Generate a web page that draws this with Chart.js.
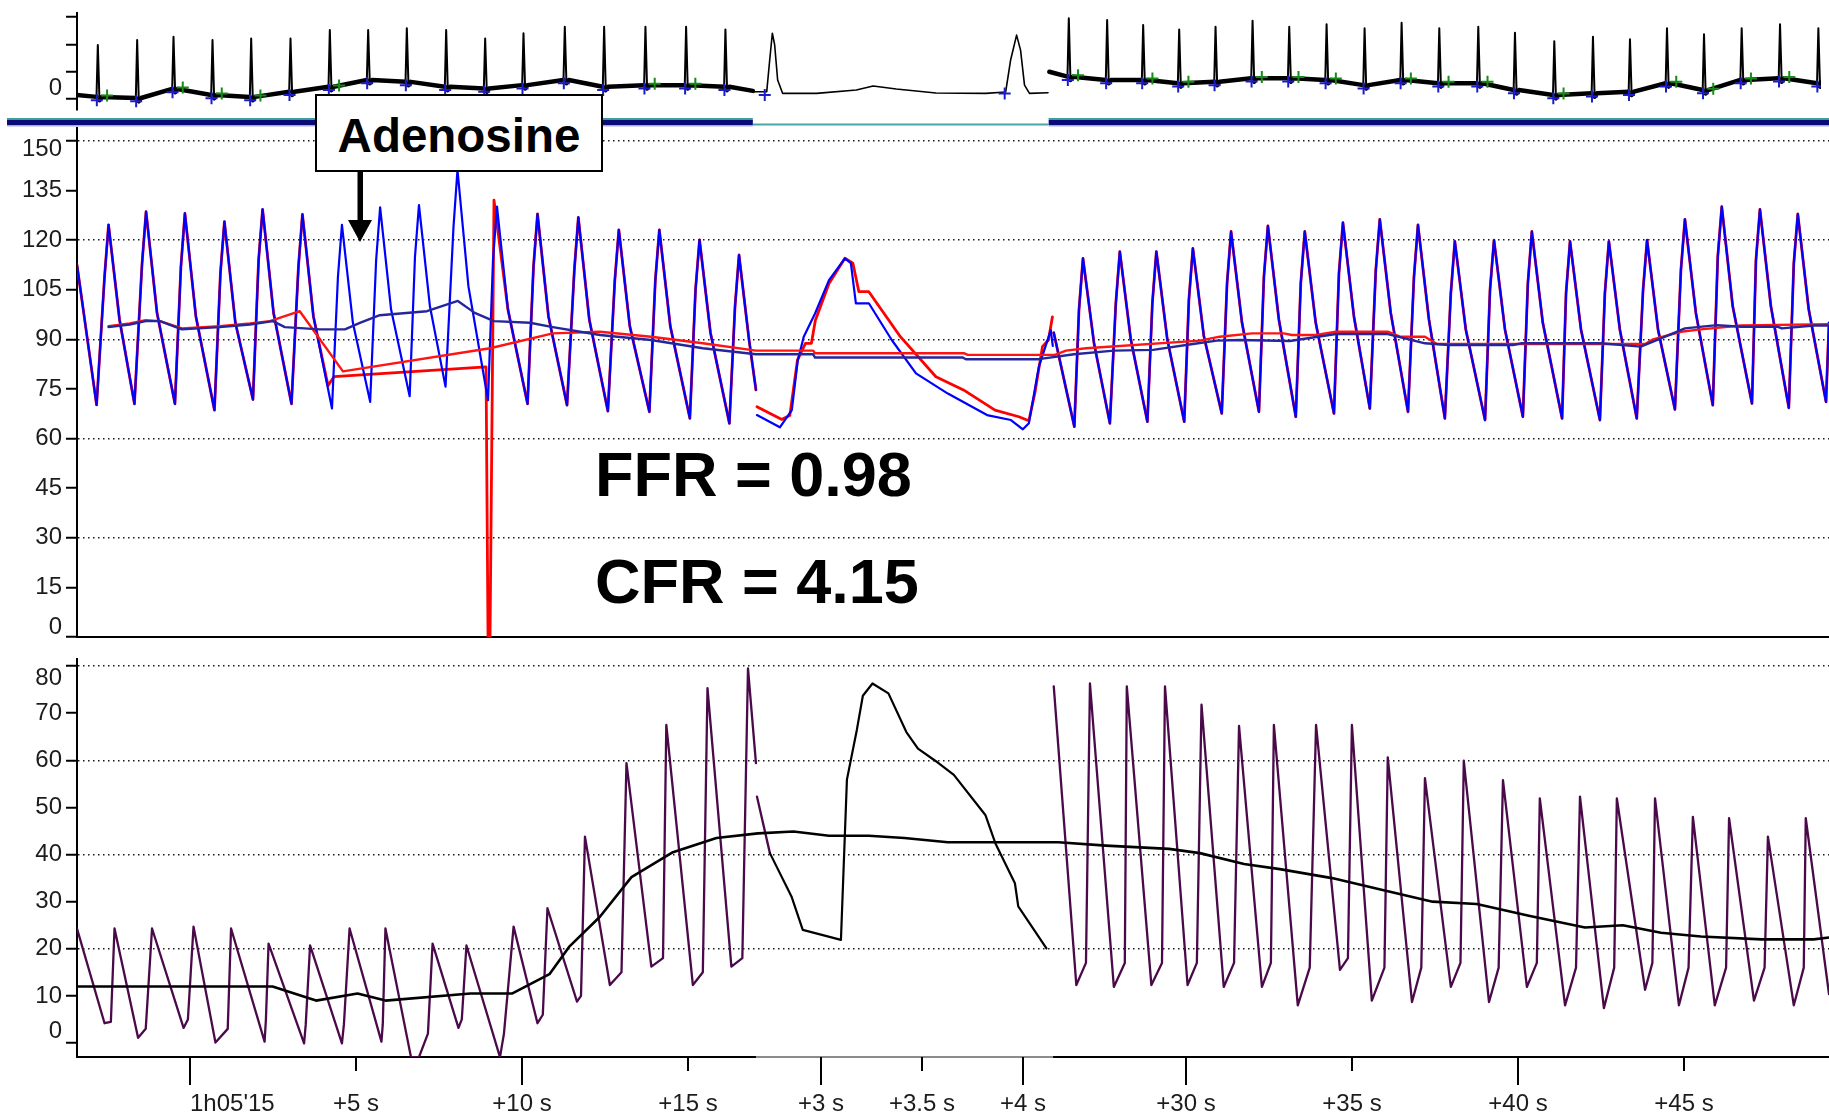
<!DOCTYPE html>
<html lang="en">
<head>
<meta charset="utf-8">
<title>Pressure / flow recording with adenosine</title>
<script src="https://cdn.jsdelivr.net/npm/chart.js@4.4.1/dist/chart.umd.min.js"></script>
<style>
  html, body { margin: 0; padding: 0; background: #fff; }
  body { width: 1829px; height: 1117px; position: relative; overflow: hidden;
         font-family: "Liberation Sans", Arial, sans-serif; }
  canvas { position: absolute; left: 0; }
  #ecg   { top: 0;     width: 1829px; height: 130px; }
  #press { top: 120px; width: 1829px; height: 530px; }
  #flow  { top: 650px; width: 1829px; height: 467px; }
  .note { position: absolute; font-weight: bold; color: #000; white-space: nowrap; }
  #adenosine { left: 315px; top: 94px; width: 284px; height: 74px; border: 2px solid #000;
               background: #fff; font-size: 47.5px; line-height: 80px; text-align: center; overflow: hidden; }
  #arrow { position: absolute; left: 346px; top: 170px; }
  #ffr { left: 595px; top: 443px; font-size: 63px; line-height: 63px; }
  #cfr { left: 595px; top: 550px; font-size: 63px; line-height: 63px; }
</style>
</head>
<body>
<canvas id="ecg" width="1829" height="130"></canvas>
<canvas id="press" width="1829" height="530"></canvas>
<canvas id="flow" width="1829" height="467"></canvas>

<div id="adenosine" class="note">Adenosine</div>
<svg id="arrow" width="28" height="74" viewBox="0 0 28 74">
  <rect x="11.5" y="0" width="5.5" height="52" fill="#000"/>
  <polygon points="2,50 26,50 14,72" fill="#000"/>
</svg>
<div id="ffr" class="note">FFR = 0.98</div>
<div id="cfr" class="note">CFR = 4.15</div>

<script>
// x values are seconds after 1h05'15; the +3 .. +4 s window is shown stretched
const X_MIN = -3.4, X_MAX = 49.37;
const ZOOM_START = 17.05, ZOOM_END = 26.0;

const timeTickU = [0, 5, 10, 15, 19.0, 22.05, 25.09, 30, 35, 40, 45];
const timeTickLabels = ["1h05'15", "+5 s", "+10 s", "+15 s", "+3 s", "+3.5 s", "+4 s", "+30 s", "+35 s", "+40 s", "+45 s"];
const timeTickLong = [1, 0, 1, 0, 1, 0, 1, 1, 0, 1, 0];

const ecgTicks = [0, 1, 2, 3];
const ecgTickLabels = ["0", "", "", ""];
const pressureTicks = [0, 15, 30, 45, 60, 75, 90, 105, 120, 135, 150];
const pressureGrid = [30, 60, 90, 120, 150];
const flowTicks = [0, 10, 20, 30, 40, 50, 60, 70, 80];
const flowGrid = [20, 40, 60, 80];

// ECG: [time, baseline, R peak]
const ecgBeats = [
  [-2.77,0.08,1.98],[-1.58,0.04,2.16],[-0.48,0.37,2.28],[0.70,0.15,2.16],[1.87,0.08,2.22],
  [3.06,0.27,2.22],[4.25,0.45,2.53],[5.41,0.70,2.53],[6.58,0.63,2.59],[7.77,0.45,2.53],
  [8.95,0.39,2.22],[10.11,0.51,2.41],[11.36,0.70,2.65],[12.55,0.45,2.65],[13.80,0.51,2.65],
  [15.03,0.51,2.65],[16.22,0.45,2.55],
  [26.61,0.82,2.96],[27.77,0.70,2.89],[28.86,0.70,2.71],[29.95,0.58,2.55],[31.05,0.63,2.65],
  [32.17,0.76,2.87],[33.28,0.76,2.65],[34.41,0.70,2.74],[35.56,0.51,2.59],[36.68,0.70,2.79],
  [37.82,0.58,2.59],[39.00,0.58,2.65],[40.11,0.33,2.43],[41.30,0.15,2.12],[42.47,0.21,2.28],
  [43.59,0.27,2.19],[44.71,0.58,2.59],[45.83,0.33,2.37],[46.97,0.70,2.59],[48.13,0.76,2.74],
  [49.29,0.58,2.59]
];
const ecgEnds = [[-3.40,0.15],[17.05,0.30],[26.02,1.00],[49.37,0.60]];
const ecgZoomTrace = [
  [17.07,0.27],[17.47,0.27],[17.56,1.43],[17.64,2.41],[17.71,1.98],[17.80,0.70],[17.95,0.21],
  [18.98,0.21],[20.18,0.33],[20.69,0.48],[21.39,0.37],[22.59,0.22],[24.10,0.21],[24.70,0.26],
  [24.85,1.43],[25.03,2.34],[25.15,1.79],[25.27,0.51],[25.42,0.21],[25.98,0.23]
];
const ecgZoomMarks = [[17.41,0.15],[24.67,0.20]];
const ecgGreenBeats = [0,2,3,4,6,14,15,17,19,20,22,23,24,26,27,28,30,33,34,35,36];

// Pd phasic (blue), [time, mmHg]: foot, upstroke, peak, dicrotic shoulder; null = break
const pdPhasic = [
  [-3.40,112.5],
  [-2.81,70.2],[-2.57,109],[-2.45,124.6],[-2.12,96],
  [-1.67,70.5],[-1.44,113],[-1.32,128.6],[-0.99,98],
  [-0.45,70.5],[-0.27,112],[-0.15,128.1],[0.18,97],
  [0.74,68.6],[0.92,110],[1.04,125.6],[1.37,95],
  [1.90,71.8],[2.07,114],[2.19,129.3],[2.52,98],
  [3.06,70.5],[3.27,112],[3.39,127.8],[3.72,97],
  [4.28,69.1],[4.46,109],[4.58,124.6],[4.91,95],
  [5.43,71.1],[5.61,114],[5.73,129.9],[6.06,99],
  [6.62,72.8],[6.78,115],[6.90,130.6],[7.23,100],
  [7.70,75.7],[7.94,124],[8.06,141.2],[8.39,106],
  [8.98,71.6],[9.13,114],[9.25,130.1],[9.58,99],
  [10.17,70.5],[10.35,112],[10.47,127.9],[10.80,97],
  [11.36,70.1],[11.58,111],[11.70,126.9],[12.03,96],
  [12.59,68.3],[12.80,108],[12.92,123.1],[13.25,94],
  [13.84,68.1],[14.02,108],[14.14,123.1],[14.47,94],
  [15.06,66.1],[15.23,105],[15.35,120.1],[15.68,92],
  [16.25,64.6],[16.42,100],[16.54,115.5],[16.84,90],
  [17.05,74.7],[17.06,null],
  [17.08,67.1],[17.77,63.4],[18.13,68.6],[18.31,83.7],[18.49,90.8],[18.83,97.8],[19.25,107.9],
  [19.73,114.5],[19.91,113],[20.06,100.9],[20.45,100.9],[21.14,89.8],[21.87,79.7],[22.83,73.6],
  [24.01,67.1],[24.73,65.6],[25.09,62.8],[25.27,64.6],[25.57,81.7],[25.93,92.8],[25.99,88],[26.0,null],
  [26.02,92],
  [26.64,63.6],[26.78,99],[26.90,114.5],[27.23,89],
  [27.71,64.6],[27.89,101],[28.01,116.5],[28.34,90],
  [28.84,65.1],[28.99,101],[29.11,116.5],[29.44,90],
  [29.95,65.1],[30.09,102],[30.21,117.5],[30.54,91],
  [31.08,67.6],[31.24,107],[31.36,122.6],[31.69,95],
  [32.20,68.1],[32.35,109],[32.47,124.3],[32.80,96],
  [33.31,66.6],[33.46,107],[33.58,122.6],[33.91,95],
  [34.46,67.6],[34.61,110],[34.73,125.3],[35.06,97],
  [35.54,69.1],[35.72,111],[35.84,126.3],[36.17,98],
  [36.69,68.1],[36.87,109],[36.99,124.6],[37.32,96],
  [37.80,66.1],[37.98,104],[38.10,119.6],[38.43,93],
  [39.01,65.6],[39.16,105],[39.28,120],[39.61,93],
  [40.15,66.6],[40.30,107],[40.42,122.6],[40.75,95],
  [41.33,66.1],[41.45,104],[41.57,119.6],[41.90,93],
  [42.47,65.6],[42.62,104],[42.74,119.6],[43.07,93],
  [43.58,66.1],[43.77,105],[43.89,120],[44.22,93],
  [44.73,68.8],[44.91,111],[45.03,126.3],[45.36,98],
  [45.87,70.1],[46.02,115],[46.14,130.1],[46.47,100],
  [47.05,70.6],[47.17,114],[47.29,129.3],[47.62,100],
  [48.16,69.3],[48.31,113],[48.43,127.9],[48.76,99],
  [49.28,71.1],[49.37,95]
];
// Pa phasic (red) where it departs from Pd
const paAdenosineRun = [[4.16,76],[4.34,78.7],[8.92,81.7],[8.98,0],[9.04,0],[9.16,132.1]];
const paZoom = [
  [17.08,69.6],[17.83,65.8],[18.07,67],[18.30,83.7],[18.54,88.8],[18.72,88.8],[18.84,95.8],
  [19.25,106.9],[19.73,114.5],[19.97,113],[20.15,104.4],[20.45,104.4],[21.40,90.8],[22.47,78.7],
  [23.30,74.7],[24.25,68.6],[24.97,66.6],[25.27,65.4],[25.45,73.7],[25.68,87.8],[25.86,89.8],[25.98,96.8]
];
const pdMean = [
  [-2.45,93.7],[-1.81,94.5],[-1.33,95.5],[-0.90,95.5],[-0.24,93],[0.90,93.7],[1.81,94.5],[2.50,95.5],
  [2.86,93.7],[3.92,93],[4.67,93],[5.12,95],[5.72,97.3],[7.14,98.5],[8.07,101.6],[8.58,98],[9.16,95.5],
  [10.24,95],[10.93,93.7],[12.35,91.3],[13.89,89.8],[15.45,87.3],[17.05,85.5],[18.77,85.5],[18.83,84.5],
  [23.28,84.5],[23.37,84],[25.57,84],[26.63,85.5],[27.83,86.6],[29.01,86.8],[30.21,88.6],[30.93,89.6],
  [31.63,89.8],[33.13,89.5],[34.52,91.6],[36.08,91.6],[37.20,88.8],[37.92,88.3],[39.85,88.3],
  [40.09,88.8],[42.50,88.8],[43.70,87.8],[44.31,90.3],[45.03,93.3],[46.00,94.3],[46.72,93.8],
  [47.83,93.8],[47.95,93.3],[48.92,94.2],[49.37,94.2]
];
const paMean = [
  [-2.45,94],[-1.81,94.8],[-1.33,95.8],[-0.90,95.5],[-0.24,93.3],[0.90,94],[1.81,94.8],[2.41,95.5],
  [3.31,98.5],[4.61,80.3],[9.04,87.3],[10.93,91.8],[12.35,92.3],[13.89,90.8],[15.45,88.8],[17.05,86.6],
  [18.77,86.6],[18.83,85.8],[23.31,85.8],[23.43,85.3],[26.05,85.3],[26.39,86.6],[26.99,87.3],
  [30.42,89.6],[31.02,90.8],[31.99,91.8],[32.95,91.8],[33.19,91.3],[33.92,91.3],[34.52,92.3],
  [36.08,92.3],[36.45,90.8],[37.20,90.8],[37.56,88.6],[43.83,88.6],[44.07,90],[44.91,92.3],
  [45.51,93],[46.72,94.2],[49.37,94.6]
];

// Flow velocity, [time, cm/s]
const flowPhasic = [
  [-3.40,24.3],[-2.57,4.2],[-2.38,4.5],[-2.27,24.3],[-1.56,1.1],[-1.33,3],[-1.14,24.3],[-0.19,3.2],
  [-0.06,5],[0.11,24.7],[0.77,0.1],[1.14,3],[1.24,24.3],[2.25,0.3],[2.29,5],[2.37,21.1],[3.44,-0.1],
  [3.49,4],[3.62,20.7],[4.58,-0.1],[4.64,4],[4.81,24.3],[5.77,0.3],[5.81,4],[5.89,24.3],[6.66,-3],
  [6.90,-3],[7.17,2],[7.31,21.1],[8.09,3.2],[8.19,5],[8.33,20.7],[9.34,-3],[9.46,2],[9.75,24.7],
  [10.47,4.2],[10.63,6],[10.77,28.6],[11.66,8.8],[11.78,10],[11.90,43.8],[12.65,12.3],[13.00,15],
  [13.15,59.4],[13.90,16.2],[14.25,18],[14.35,67.5],[15.15,12.3],[15.45,15],[15.59,75.3],[16.31,16.2],
  [16.64,18],[16.81,79.5],[17.05,59.4],[17.06,null],[17.08,52.3],[17.47,40.3],[17.48,null],
  [26.02,75.7],[26.70,12.3],[26.99,17],[27.11,76.3],[27.83,11.9],[28.16,17],[28.22,75.7],[28.96,12.3],
  [29.28,17],[29.37,75.7],[30.05,12.3],[30.33,17],[30.47,71.8],[31.14,11.9],[31.45,17],[31.60,67.3],
  [32.29,11.9],[32.56,17],[32.65,67.5],[33.37,8],[33.73,16],[33.92,67.5],[34.64,15.5],[34.88,18],
  [35.00,67.5],[35.60,9],[35.98,16],[36.08,60.6],[36.81,8.7],[37.09,16],[37.20,56.2],[37.98,11.9],
  [38.27,17],[38.37,59.9],[39.13,8.7],[39.42,16],[39.55,55.8],[40.27,11.9],[40.57,17],[40.66,51.9],
  [41.42,8],[41.75,16],[41.87,52.3],[42.59,7.4],[42.90,16],[42.98,51.9],[43.83,11.3],[44.05,17],
  [44.13,51.9],[44.85,8],[45.14,16],[45.27,48],[45.93,8],[46.27,16],[46.36,47.7],[47.11,9],[47.43,16],
  [47.53,43.8],[48.31,8],[48.61,16],[48.67,47.7],[49.37,10.4]
];
const flowZoomTrace = [
  [17.47,40.3],[18.12,31.1],[18.46,24],[19.61,21.9],[19.79,55.9],[20.09,66.5],[20.27,73.7],
  [20.56,76.3],[21.04,74.2],[21.58,66],[21.93,62.5],[22.47,59.8],[23.01,56.9],[23.96,48.4],
  [24.26,42.4],[24.85,33.9],[24.95,29],[25.80,20.1]
];
const flowMean = [
  [-3.40,12],[2.49,12],[3.80,9.0],[5.05,10.5],[5.89,9],[8.45,10.5],[9.70,10.5],[10.83,14.6],
  [11.42,20.4],[12.35,26.8],[13.30,35.2],[14.55,40.5],[15.86,43.5],[17.11,44.5],[18.18,44.9],
  [19.25,44],[20.45,44],[21.52,43.5],[22.83,42.6],[26.16,42.6],[27.59,41.9],[29.49,41.2],[30.42,40.3],
  [31.75,38],[32.83,36.9],[34.40,35],[35.86,32.6],[37.43,30],[38.76,29.5],[40.33,27],[42.02,24.5],
  [43.16,25],[44.31,23.4],[45.51,22.6],[47.34,22],[48.91,22],[49.37,22.4]
];

// ---------------------------------------------------------------
const FONT = '24px "Liberation Sans", Arial, sans-serif';
const xy = arr => arr.map(([x, y]) => ({ x, y }));
const inZoom = u => u > ZOOM_START && u < ZOOM_END;

function spikes(beats) {
  const out = [];
  beats.forEach(([u, base, top]) => {
    out.push([u - 0.04, base], [u, top], [u + 0.05, base - 0.12], [u + 0.12, base]);
  });
  return out;
}

const ecgTrace = [
  ecgEnds[0],
  ...spikes(ecgBeats.filter(b => b[0] < ZOOM_START)),
  ecgEnds[1], [ZOOM_START + 0.01, null],
  ...ecgZoomTrace,
  [ZOOM_END - 0.01, null], ecgEnds[2],
  ...spikes(ecgBeats.filter(b => b[0] > ZOOM_END)),
  ecgEnds[3]
];
const ecgBlueMarks = [...ecgBeats.map(([u, base]) => [u - 0.03, base - 0.12]), ...ecgZoomMarks];
const ecgGreenMarks = ecgGreenBeats.map(i => [ecgBeats[i][0] + 0.28, ecgBeats[i][1] + 0.05]);

const paPhasic = [
  ...pdPhasic.filter(([u]) => u <= 3.72),
  ...paAdenosineRun,
  ...pdPhasic.filter(([u]) => u > 9.3 && u < ZOOM_START + 0.005),
  [ZOOM_START + 0.01, null],
  ...paZoom,
  [ZOOM_END, null],
  ...pdPhasic.filter(([u]) => u > ZOOM_END + 0.005)
];

// y tick labels, with the end labels tucked inside the axis span
const axisLabels = {
  id: 'axisLabels',
  afterDraw(chart, args, opts) {
    const s = chart.scales.y, ctx = chart.ctx, n = s.ticks.length;
    ctx.save();
    ctx.font = FONT;
    ctx.fillStyle = '#1c1c1c';
    ctx.textAlign = 'right';
    ctx.textBaseline = 'middle';
    s.ticks.forEach((t, i) => {
      const text = opts.labels ? opts.labels[i] : String(t.value);
      if (!text) return;
      let py = s.getPixelForValue(t.value);
      if (i === 0) py -= opts.lowShift || 0;
      if (i === n - 1) py += opts.highShift || 0;
      ctx.fillText(text, s.right - 15, py);
    });
    ctx.restore();
  }
};

// separator band under the ECG strip (thin where the window is stretched)
const ecgBand = {
  id: 'ecgBand',
  afterDraw(chart) {
    const x = chart.scales.x, ctx = chart.ctx;
    const a = x.getPixelForValue(ZOOM_START), b = x.getPixelForValue(ZOOM_END);
    ctx.save();
    [[x.left - 70, a], [b, chart.width]].forEach(([l, r]) => {
      ctx.fillStyle = '#3f9c9c'; ctx.fillRect(l, 118, r - l, 2);
      ctx.fillStyle = '#0b0b78'; ctx.fillRect(l, 120, r - l, 5);
      ctx.fillStyle = '#a8a8e6'; ctx.fillRect(l, 125, r - l, 1.5);
    });
    ctx.fillStyle = '#4aa6a6';
    ctx.fillRect(a, 123.5, b - a, 2);
    ctx.restore();
  }
};

// time axis: long / short tick marks and labels
const timeAxis = {
  id: 'timeAxis',
  afterDraw(chart) {
    const x = chart.scales.x, ctx = chart.ctx, y0 = chart.chartArea.bottom;
    ctx.save();
    ctx.strokeStyle = '#8c8c8c';
    ctx.lineWidth = 2;
    ctx.beginPath();
    ctx.moveTo(x.getPixelForValue(ZOOM_START), y0);
    ctx.lineTo(x.getPixelForValue(ZOOM_END), y0);
    ctx.stroke();
    ctx.strokeStyle = '#000';
    ctx.font = FONT;
    ctx.fillStyle = '#1c1c1c';
    ctx.textBaseline = 'middle';
    timeTickU.forEach((u, i) => {
      const px = Math.round(x.getPixelForValue(u));
      ctx.beginPath();
      ctx.moveTo(px, y0);
      ctx.lineTo(px, y0 + (timeTickLong[i] ? 28 : 14));
      ctx.stroke();
      ctx.textAlign = i === 0 ? 'left' : 'center';
      ctx.fillText(timeTickLabels[i], px, y0 + 47);
    });
    ctx.restore();
  }
};

function yScale(min, max, ticks, gridValues) {
  return {
    type: 'linear', min, max,
    afterFit: s => { s.width = 77; },
    afterBuildTicks: s => { s.ticks = ticks.map(value => ({ value })); },
    ticks: { display: false },
    grid: {
      color: c => (c.tick && gridValues.includes(c.tick.value)) ? '#1a1a1a' : 'rgba(0,0,0,0)',
      lineWidth: 1.5, tickLength: 11, tickColor: '#000', tickWidth: 2, tickBorderDash: []
    },
    border: { display: true, color: '#000', width: 2, dash: [1.5, 3.5] }
  };
}

function xScale(height) {
  if (height === null) return { type: 'linear', min: X_MIN, max: X_MAX, display: false };
  return {
    type: 'linear', min: X_MIN, max: X_MAX,
    afterFit: s => { s.height = height; },
    ticks: { display: false },
    grid: { display: false, drawTicks: false },
    border: { display: true, color: '#000', width: 2 }
  };
}

function line(data, color, width, extra) {
  return Object.assign({
    data: xy(data), borderColor: color, borderWidth: width, pointRadius: 0,
    fill: false, tension: 0, spanGaps: false, borderJoinStyle: 'round', borderCapStyle: 'round'
  }, extra || {});
}

function marks(data, color) {
  return {
    data: xy(data), showLine: false, pointStyle: 'cross', pointRadius: 6,
    pointBorderColor: color, pointBorderWidth: 2, borderColor: color
  };
}

function common(padding, yAxis, xAxis, labelOpts) {
  return {
    responsive: false, animation: false, events: [],
    layout: { padding },
    scales: { x: xAxis, y: yAxis },
    plugins: { legend: { display: false }, tooltip: { enabled: false }, axisLabels: labelOpts }
  };
}

new Chart(document.getElementById('ecg'), {
  type: 'line',
  data: {
    datasets: [
      marks(ecgBlueMarks, '#1c1cc8'),
      marks(ecgGreenMarks, '#178a17'),
      line(ecgTrace, '#000', 2, {
        segment: {
          borderWidth: c => inZoom(c.p0.parsed.x) ? 1.6
            : (Math.abs(c.p1.parsed.y - c.p0.parsed.y) > 0.5 ? 2 : 4.5)
        }
      })
    ]
  },
  options: common({ top: 13, bottom: 20, left: 0, right: 0 },
    yScale(-0.40, 3.15, ecgTicks, []), xScale(null),
    { labels: ecgTickLabels, lowShift: 11 }),
  plugins: [axisLabels, ecgBand]
});

new Chart(document.getElementById('press'), {
  type: 'line',
  data: {
    datasets: [
      line(pdMean, '#26269c', 2.4),
      line(paMean, '#ff1414', 2.4),
      line(pdPhasic, '#0000ff', 2.2),
      line(paPhasic, '#ff0000', 2.8)
    ]
  },
  options: common({ top: 8, bottom: 13, left: 0, right: 0 },
    yScale(0, 153.9, pressureTicks, pressureGrid), xScale(0),
    { lowShift: 10, highShift: 8 }),
  plugins: [axisLabels]
});

new Chart(document.getElementById('flow'), {
  type: 'line',
  data: {
    datasets: [
      line(flowMean, '#000', 2.6),
      line(flowZoomTrace, '#000', 2.2),
      line(flowPhasic, '#4a0a4a', 2.3)
    ]
  },
  options: common({ top: 9, bottom: 0, left: 0, right: 0 },
    yScale(-2.97, 81.5, flowTicks, flowGrid), xScale(60),
    { lowShift: 12, highShift: 12 }),
  plugins: [axisLabels, timeAxis]
});
</script>
</body>
</html>
